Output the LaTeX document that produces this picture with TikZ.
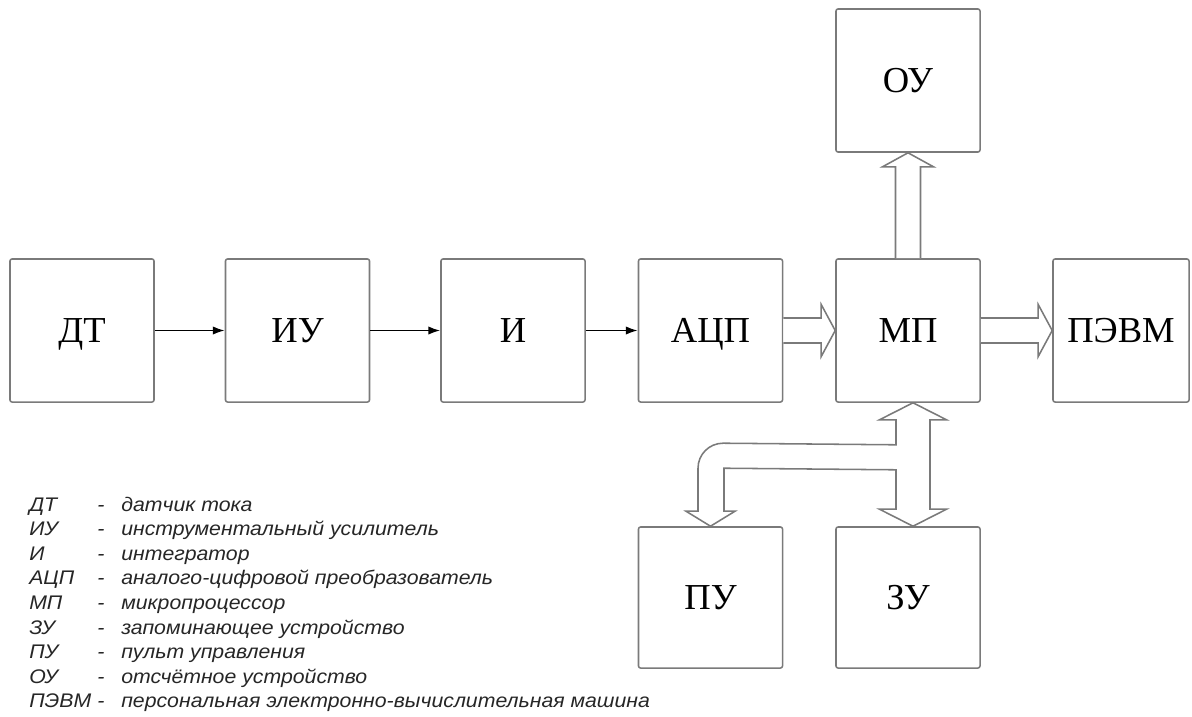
\documentclass[tikz,border=0pt]{standalone}
\usepackage{fontspec}
\setmainfont{Liberation Serif}
\newfontfamily\legendfont[FakeStretch=1.08]{Liberation Sans}
\usetikzlibrary{calc,arrows.meta}
\definecolor{boxgray}{HTML}{7A7A7A}
\tikzset{
	block/.style={draw=boxgray, line width=1.1pt, rounded corners=1.5pt, minimum width=3.6cm, minimum height=3.575cm, text height=17.2pt, text depth=0pt, font=\fontsize{26}{30}\selectfont},
	sig/.style={-{Latex[length=8.5pt,width=6pt]}, line width=1.2pt},
	bus/.style={draw=boxgray, fill=white, line width=1.1pt},
	legend/.style={anchor=base west, inner sep=0pt, text=black!85, font=\legendfont\itshape\fontsize{14}{17}\selectfont}
}
\begin{document}
\begin{tikzpicture}[x=0.025cm, y=-0.025cm]
	\useasboundingbox (0,0) rectangle (1192,717);
	% blocks
	\node[block] (dt) at (82,330.5) {ДТ};
	\node[block] (iu) at (297.5,330.5) {ИУ};
	\node[block] (int) at (513,330.5) {И};
	\node[block] (adc) at (710.5,330.5) {АЦП};
	\node[block] (mp) at (908,330.5) {МП};
	\node[block, minimum width=3.4cm] (pc) at (1121,330.5) {ПЭВМ};
	\node[block] (ou) at (908,80.5) {ОУ};
	\node[block, minimum height=3.525cm] (pu) at (710.5,597.5) {ПУ};
	\node[block, minimum height=3.525cm] (zu) at (908,597.5) {ЗУ};
	% signal lines
	\draw[sig] (dt) -- (iu);
	\draw[sig] (iu) -- (int);
	\draw[sig] (int) -- (adc);
	% buses
	\draw[bus] ($(adc.east)+(0,-12.5)$) -- ($(mp.west)+(-14,-12.5)$) -- ($(mp.west)+(-14,-26)$) -- (mp.west)
		-- ($(mp.west)+(-14,26)$) -- ($(mp.west)+(-14,12.5)$) -- ($(adc.east)+(0,12.5)$);
	\draw[bus] ($(mp.east)+(0,-12.5)$) -- ($(pc.west)+(-14,-12.5)$) -- ($(pc.west)+(-14,-26)$) -- (pc.west)
		-- ($(pc.west)+(-14,26)$) -- ($(pc.west)+(-14,12.5)$) -- ($(mp.east)+(0,12.5)$);
	\draw[bus] ($(mp.north)+(-12.5,0)$) -- ($(ou.south)+(-12.5,14)$) -- ($(ou.south)+(-25.5,14)$) -- (ou.south)
		-- ($(ou.south)+(25.5,14)$) -- ($(ou.south)+(12.5,14)$) -- ($(mp.north)+(12.5,0)$);
	\coordinate (bt) at ($(mp.south)+(5,0)$);
	\coordinate (bb) at ($(zu.north)+(5,0)$);
	\coordinate (pt) at (pu.north);
	\draw[bus] (bt) -- ($(bt)+(33.5,17)$) -- ($(bt)+(17,17)$) -- ($(bb)+(17,-17)$) -- ($(bb)+(33.5,-17)$) -- (bb)
		-- ($(bb)+(-33.5,-17)$) -- ($(bb)+(-17,-17)$) -- ($(bt)+(-17,67)$) -- ($(pt)+(13.5,-58)$)
		-- ($(pt)+(13.5,-15)$) -- ($(pt)+(24.5,-15)$) -- (pt) -- ($(pt)+(-24.5,-15)$) -- ($(pt)+(-12.5,-15)$)
		-- ($(pt)+(-12.5,-58)$) arc[start angle=180, end angle=90, radius=0.625cm]
		-- ($(bt)+(-17,42)$) -- ($(bt)+(-17,17)$) -- ($(bt)+(-33.5,17)$) -- cycle;
	% legend
	\foreach \ab/\tx [count=\i from 0] in {ДТ/датчик тока, ИУ/инструментальный усилитель, И/интегратор,
		АЦП/аналого-цифровой преобразователь, МП/микропроцессор, ЗУ/запоминающее устройство,
		ПУ/пульт управления, ОУ/отсчётное устройство, ПЭВМ/персональная электронно-вычислительная машина} {
		\node[legend] (ab\i) at (29,{511+24.6*\i}) {\ab};
		\node[legend] (ds\i) at (97,{511+24.6*\i}) {-};
		\node[legend] (tx\i) at (121,{511+24.6*\i}) {\tx};
	}
\end{tikzpicture}
\end{document}
